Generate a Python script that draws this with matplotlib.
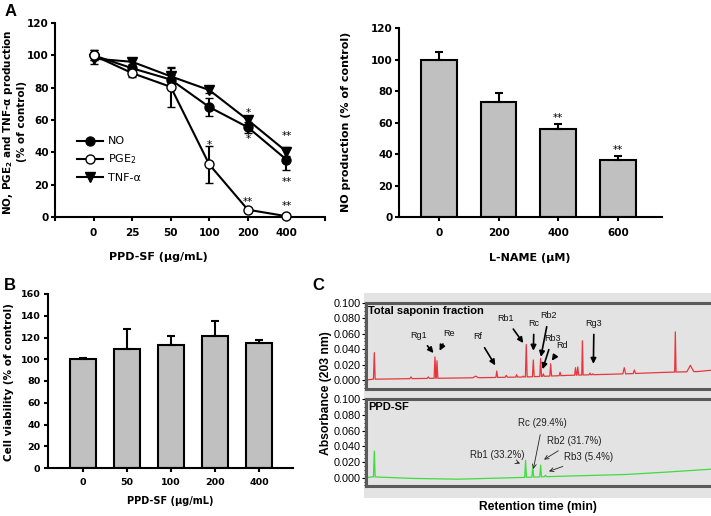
import numpy as np
import matplotlib
matplotlib.use("Agg")
import matplotlib.pyplot as plt
from matplotlib.patches import Rectangle
from matplotlib.lines import Line2D
from matplotlib.ticker import MultipleLocator, AutoMinorLocator

plt.rcParams['font.family'] = ['DejaVu Sans']
plt.rcParams['mathtext.default'] = 'regular'
ARIAL = ['Liberation Sans', 'DejaVu Sans']

# ---- panel A (left): dose response ----
doses_a = ['0', '25', '50', '100', '200', '400']
no_mean = [100, 92, 85, 68, 55.5, 35.5]
no_err = [3, 2, 3, 5.5, 3.5, 6.5]
pge_mean = [100, 89, 80.5, 32.5, 4.5, 0.5]
pge_err = [3, 2.5, 12.5, 11.5, 0, 0]
tnf_mean = [98, 96, 87, 78.5, 60, 40.5]
tnf_err = [3.5, 1.5, 5, 2, 2.5, 3]
# (dose index, height, text)
stars_a = [(3, 46, '*'), (4, 66, '*'), (4, 49.5, '*'), (4, 11, '**'),
           (5, 51.5, '**'), (5, 23, '**'), (5, 8.5, '**')]

# ---- panel A (right): L-NAME ----
lname = ['0', '200', '400', '600']
lname_no = [100, 73, 56, 36]
lname_err = [5, 6, 3, 3]
stars_lname = [(2, 64.5, '**'), (3, 44, '**')]

# ---- panel B: cell viability ----
doses_b = ['0', '50', '100', '200', '400']
viab = [100, 109, 113, 121.5, 115]
viab_err = [1, 19, 8, 14, 3]

# ---- panel C: chromatograms (retention time in min, absorbance) ----
tsf_base_rt = [0, 1.2, 10, 20, 28, 35, 45, 52, 57.5, 60.3]
tsf_base_ab = [0.000, 0.001, 0.002, 0.003, 0.004, 0.006, 0.008, 0.010, 0.011, 0.013]
tsf_pk_rt = [1.44, 7.8, 10.8, 11.95, 12.3, 19.0, 22.66, 24.3, 26.1, 27.2, 27.77, 28.99,
             30.26, 30.73, 32.0, 33.62, 36.3, 36.7, 37.5, 38.8, 39.3, 44.05, 44.75,
             46.5, 53.6, 56.2]
tsf_pk_top = [0.0355, 0.004, 0.004, 0.030, 0.025, 0.005, 0.0117, 0.006, 0.007, 0.005,
              0.046, 0.026, 0.028, 0.008, 0.021, 0.010, 0.016, 0.017, 0.051, 0.009,
              0.008, 0.008, 0.016, 0.013, 0.0625, 0.019]
tsf_pk_hw = [0.15, 0.2, 0.2, 0.15, 0.15, 0.5, 0.15, 0.2, 0.15, 0.15, 0.15, 0.15,
             0.15, 0.15, 0.15, 0.15, 0.15, 0.15, 0.12, 0.15, 0.15, 0.2, 0.25,
             0.2, 0.12, 0.6]

ppd_base_rt = [0, 1.2, 8, 16, 26, 35, 45, 52, 60.3]
ppd_base_ab = [0.000, 0.001, -0.001, -0.002, 0.000, 0.002, 0.004, 0.007, 0.011]
ppd_pk_rt = [1.44, 27.65, 28.9, 30.26, 31.1]
ppd_pk_top = [0.034, 0.022, 0.015, 0.016, 0.003]
ppd_pk_hw = [0.15, 0.15, 0.15, 0.15, 0.2]

tsf_labels = ['Rg1', 'Re', 'Rf', 'Rb1', 'Rc', 'Rb2', 'Rb3', 'Rd', 'Rg3']
tsf_text_xy = [(9.1, 0.058), (14.3, 0.061), (19.4, 0.056), (24.2, 0.080), (29.1, 0.074),
               (31.7, 0.084), (32.3, 0.054), (34.0, 0.045), (39.5, 0.074)]
tsf_tip_xy = [(11.7, 0.035), (12.75, 0.038), (22.4, 0.019), (27.25, 0.048), (29.0, 0.038),
              (30.3, 0.030), (30.6, 0.014), (32.2, 0.025), (39.4, 0.021)]

ppd_labels = ['Rb1 (33.2%)', 'Rc (29.4%)', 'Rb2 (31.7%)', 'Rb3 (5.4%)']
ppd_text_xy = [(22.7, 0.0295), (30.6, 0.070), (36.1, 0.047), (38.6, 0.026)]
ppd_tip_xy = [(26.7, 0.018), (29.0, 0.011), (30.85, 0.023), (31.7, 0.008)]

W, H = 711, 516
fig = plt.figure(figsize=(W / 100, H / 100), dpi=100)


def box(l, t, r, b):
    return [l / W, 1 - b / H, (r - l) / W, (b - t) / H]


def style_axis(ax, size=7.5, xpad=5, ypad=1.5):
    for s in ['top', 'right']:
        ax.spines[s].set_visible(False)
    for s in ['left', 'bottom']:
        ax.spines[s].set_linewidth(1.5)
    ax.tick_params(width=1.5, length=3, direction='out', labelsize=size)
    ax.tick_params(axis='x', pad=xpad)
    ax.tick_params(axis='y', pad=ypad)
    for lab in ax.get_xticklabels() + ax.get_yticklabels():
        lab.set_fontweight('bold')


def ftext(x, y, s, **kw):
    fig.text(x / W, 1 - y / H, s, **kw)


# ---------------- A left ----------------
ax1 = fig.add_axes(box(55, 23, 325, 217))
xa = np.arange(len(doses_a))
err_kw = dict(color='black', lw=1.5, capsize=3, capthick=1.5, markersize=6.5,
              markeredgecolor='black', markeredgewidth=1, clip_on=False)
ax1.errorbar(xa, tnf_mean, yerr=tnf_err, marker='v', markerfacecolor='black', zorder=3, **err_kw)
ax1.errorbar(xa, no_mean, yerr=no_err, marker='o', markerfacecolor='black', zorder=4, **err_kw)
ax1.errorbar(xa, pge_mean, yerr=pge_err, marker='o', markerfacecolor='white', zorder=5, **err_kw)
for i, y, s in stars_a:
    ax1.text(xa[i], y - 1.5, s, ha='center', va='center', fontsize=7.5)
ax1.set_xlim(-1, 6)
ax1.set_ylim(0, 120)
ax1.set_xticks(np.arange(-1, 7))
ax1.set_xticklabels([''] + doses_a + [''])
ax1.yaxis.set_major_locator(MultipleLocator(20))
style_axis(ax1)
handles = [Line2D([], [], color='black', lw=1.5, marker='o', markerfacecolor='black', markersize=6.5),
           Line2D([], [], color='black', lw=1.5, marker='o', markerfacecolor='white',
                  markeredgecolor='black', markersize=6.5),
           Line2D([], [], color='black', lw=1.5, marker='v', markerfacecolor='black', markersize=6.5)]
ax1.legend(handles, ['NO', 'PGE$_2$', 'TNF-α'], loc='upper left', bbox_to_anchor=(0.08, 0.415),
           frameon=False, fontsize=8, handlelength=2.4, handletextpad=0.4,
           labelspacing=0.55, borderpad=0, borderaxespad=0)
ftext(14, 122, 'NO, PGE$_2$ and TNF-α production\n(% of control)', rotation=90,
      ha='center', va='center', fontsize=7.5, fontweight='bold', multialignment='center',
      linespacing=1.25)
ftext(158, 257, 'PPD-SF (μg/mL)', ha='center', va='center', fontsize=8, fontweight='bold')

# ---------------- A right ----------------
ax2 = fig.add_axes(box(399, 28, 662, 217))
xl = np.arange(len(lname))
ax2.bar(xl, lname_no, width=0.6, color='#c0c0c0', edgecolor='black', linewidth=1.5,
        yerr=[np.zeros(len(lname)), lname_err], capsize=3,
        error_kw=dict(elinewidth=1.5, capthick=1.5, ecolor='black'))
for i, y, s in stars_lname:
    ax2.text(xl[i], y - 1.5, s, ha='center', va='center', fontsize=7.5)
ax2.set_xlim(-0.67, 3.74)
ax2.set_ylim(0, 120)
ax2.set_xticks(xl)
ax2.set_xticklabels(lname)
ax2.yaxis.set_major_locator(MultipleLocator(20))
style_axis(ax2)
ftext(346, 122, 'NO production (% of control)', rotation=90, ha='center', va='center',
      fontsize=8, fontweight='bold')
ftext(530, 258, 'L-NAME (μM)', ha='center', va='center', fontsize=8, fontweight='bold')

# ---------------- B ----------------
ax3 = fig.add_axes(box(48, 294, 293, 468))
xb = np.arange(len(doses_b))
ax3.bar(xb, viab, width=0.6, color='#c0c0c0', edgecolor='black', linewidth=1.5,
        yerr=[np.zeros(len(viab)), viab_err], capsize=3,
        error_kw=dict(elinewidth=1.5, capthick=1.5, ecolor='black'))
ax3.set_xlim(-0.8, 4.77)
ax3.set_ylim(0, 160)
ax3.set_xticks(xb)
ax3.set_xticklabels(doses_b)
ax3.yaxis.set_major_locator(MultipleLocator(20))
style_axis(ax3, size=6.8, xpad=4, ypad=2.5)
ftext(9, 382, 'Cell viability (% of control)', rotation=90, ha='center', va='center',
      fontsize=7.5, fontweight='bold')
ftext(170, 501, 'PPD-SF (μg/mL)', ha='center', va='center', fontsize=7, fontweight='bold')

# ---------------- C ----------------
fig.patches.append(Rectangle((364 / W, 1 - 498 / H), (W - 364) / W, (498 - 293) / H,
                             transform=fig.transFigure, facecolor='#e3e3e3',
                             edgecolor='none', zorder=-5))


def trace(base_rt, base_ab, pk_rt, pk_top, pk_hw):
    xs = list(base_rt)
    ys = list(base_ab)
    for r, t, w in zip(pk_rt, pk_top, pk_hw):
        b0, b1 = np.interp([r - w, r + w], base_rt, base_ab)
        xs += [r - w, r, r + w]
        ys += [b0, t, b1]
    order = np.argsort(xs, kind='stable')
    return np.array(xs)[order], np.array(ys)[order]


def chrom_axis(ax, ymin, ymax):
    ax.set_facecolor('#e3e3e3')
    for s in ax.spines.values():
        s.set_color('#5a5a5a')
        s.set_linewidth(2.2)
    ax.set_xlim(0, 60.3)
    ax.set_ylim(ymin, ymax)
    ax.set_xticks([])
    ax.set_yticks([0, 0.02, 0.04, 0.06, 0.08, 0.1])
    ax.set_yticklabels(['0.000', '0.020', '0.040', '0.060', '0.080', '0.100'],
                       family=ARIAL)
    ax.yaxis.set_minor_locator(AutoMinorLocator(4))
    ax.tick_params(axis='y', which='major', length=3, width=0.8, labelsize=7.8, pad=1)
    ax.tick_params(axis='y', which='minor', length=1.5, width=0.6)


ax4 = fig.add_axes(box(366, 303, 714, 389))
chrom_axis(ax4, -0.0117, 0.1)
tx, ty = trace(tsf_base_rt, tsf_base_ab, tsf_pk_rt, tsf_pk_top, tsf_pk_hw)
ax4.plot(tx, ty, color='#e8373c', lw=0.9)
ax4.text(0.006, 0.96, 'Total saponin fraction', transform=ax4.transAxes, ha='left', va='top',
         fontsize=8, fontweight='bold', family=ARIAL)
for lab, txy, pxy in zip(tsf_labels, tsf_text_xy, tsf_tip_xy):
    ax4.annotate(lab, xy=pxy, xytext=txy, ha='center', va='center', fontsize=6.5,
                 family=ARIAL, color='#111111',
                 arrowprops=dict(arrowstyle='-|>', color='black', lw=1.2, shrinkA=3,
                                 shrinkB=0, mutation_scale=8))

ax5 = fig.add_axes(box(366, 398.5, 714, 486))
chrom_axis(ax5, -0.0107, 0.101)
px, py = trace(ppd_base_rt, ppd_base_ab, ppd_pk_rt, ppd_pk_top, ppd_pk_hw)
ax5.plot(px, py, color='#3fdc3f', lw=0.9)
ax5.text(0.006, 0.96, 'PPD-SF', transform=ax5.transAxes, ha='left', va='top',
         fontsize=8, fontweight='bold', family=ARIAL)
for lab, txy, pxy in zip(ppd_labels, ppd_text_xy, ppd_tip_xy):
    ax5.annotate(lab, xy=pxy, xytext=txy, ha='center', va='center', fontsize=7,
                 color='#222222', family=ARIAL,
                 arrowprops=dict(arrowstyle='->', color='#222222', lw=0.6, shrinkA=3,
                                 shrinkB=0, mutation_scale=7))

ftext(326, 393, 'Absorbance (203 nm)', rotation=90, ha='center', va='center',
      fontsize=8.7, fontweight='bold', family=ARIAL)
ftext(538, 507, 'Retention time (min)', ha='center', va='center', fontsize=8.7,
      fontweight='bold', family=ARIAL)

# panel letters
ftext(11, 12, 'A', ha='center', va='center', fontsize=12, fontweight='bold', family=ARIAL)
ftext(10, 286, 'B', ha='center', va='center', fontsize=12, fontweight='bold', family=ARIAL)
ftext(318, 286, 'C', ha='center', va='center', fontsize=12, fontweight='bold', family=ARIAL)

fig.savefig('out.png', dpi=100)
